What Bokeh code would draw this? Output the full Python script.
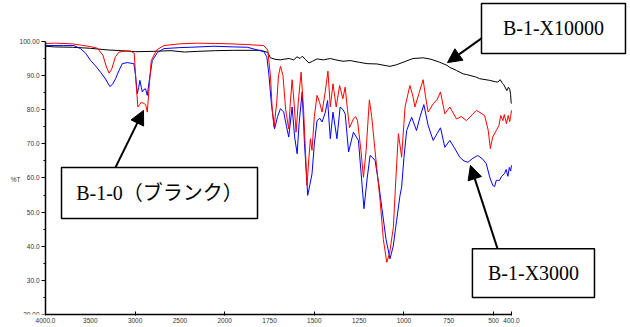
import numpy as np
from bokeh.plotting import figure
from bokeh.models import Range1d, FixedTicker, Label, Arrow, NormalHead
from bokeh.core.properties import value
from bokeh.embed import file_html
from bokeh.resources import INLINE

# ---- data (wavenumber cm-1, %T) ----
wn_black = [4000, 3900, 3700, 3500, 3300, 3150, 3000, 2800, 2600, 2450, 2300, 2100, 1950, 1800, 1760,
            1745, 1720, 1690, 1670, 1640, 1615, 1597, 1580, 1567, 1550, 1530, 1510, 1485, 1450, 1411,
            1380, 1340, 1300, 1250, 1206, 1150, 1100, 1078, 1040, 1000, 950, 893, 850, 800, 760, 744,
            707, 670, 650, 600, 578, 522, 490, 476, 463, 450, 444, 426, 417, 410, 405, 402, 400]
t_black = [98.6, 98.4, 98.3, 98.0, 97.5, 97.3, 97.0, 97.1, 97.3, 96.9, 97.1, 97.3, 97.4, 97.4, 96.8,
           95.2, 94.8, 94.6, 94.8, 95.0, 94.6, 95.5, 95.0, 95.7, 94.7, 93.7, 94.2, 94.9, 94.6, 95.0,
           94.6, 94.2, 94.4, 93.9, 93.5, 93.4, 92.9, 92.7, 93.2, 94.0, 95.0, 95.2, 94.8, 93.9, 93.0, 92.4,
           91.5, 90.5, 90.3, 89.6, 89.1, 88.6, 88.2, 88.1, 88.8, 87.7, 87.4, 85.6, 86.6, 86.0, 84.5, 82.0, 81.8]

wn_red = [4000, 3900, 3700, 3600, 3500, 3420, 3360, 3320, 3290, 3260, 3220, 3180, 3100, 3050, 3010,
          2990, 2969, 2950, 2930, 2900, 2883, 2864, 2845, 2820, 2760, 2680, 2500, 2306, 2100, 1967,
          1880, 1783, 1760, 1745, 1735, 1725, 1710, 1700, 1689, 1675, 1660, 1643, 1634, 1624, 1613,
          1602, 1590, 1574, 1560, 1541, 1530, 1522, 1513, 1500, 1485, 1470, 1457, 1440, 1424, 1411,
          1396, 1378, 1359, 1341, 1328, 1315, 1304, 1282, 1270, 1259, 1240, 1226, 1211, 1193, 1180,
          1167, 1150, 1133, 1115, 1096, 1080, 1059, 1045, 1031, 1013, 994, 967, 950, 939, 915, 893,
          880, 865, 837, 815, 796, 772, 744, 707, 680, 652, 620, 596, 570, 550, 530, 518, 505, 485,
          470, 460, 448, 440, 428, 418, 410, 405, 400]
t_red = [99.4, 99.5, 99.3, 98.9, 98.5, 98.0, 96.0, 92.5, 90.7, 92.0, 95.5, 96.9, 97.2, 97.2, 96.5,
         88.0, 80.8, 81.5, 82.2, 81.8, 81.5, 79.3, 86.0, 94.4, 97.5, 98.8, 99.3, 99.5, 99.4, 99.3,
         99.1, 98.8, 97.5, 90.0, 80.0, 74.9, 82.0, 90.0, 92.7, 90.0, 80.0, 74.4, 82.0, 88.8, 82.0,
         73.4, 82.0, 91.0, 80.0, 57.8, 66.0, 71.5, 68.1, 78.0, 84.2, 82.0, 79.3, 85.0, 91.3, 80.8,
         87.6, 80.8, 87.1, 83.2, 86.6, 80.0, 74.7, 77.3, 78.0, 76.8, 68.0, 60.2, 68.1, 82.9, 78.0,
         71.0, 62.0, 53.4, 42.0, 35.3, 38.0, 45.6, 60.0, 73.0, 66.1, 80.8, 87.1, 84.0, 80.8, 85.0, 88.8,
         84.0, 79.3, 81.7, 83.0, 85.2, 78.8, 80.8, 77.3, 78.0, 76.8, 78.5, 79.8, 79.0, 78.3, 74.0, 68.6, 72.0, 73.9,
         75.4, 78.3, 76.8, 78.6, 75.9, 78.3, 76.5, 78.0, 79.8]

wn_blue = [4000, 3800, 3684, 3609, 3550, 3497, 3440, 3386, 3330, 3282, 3250, 3218, 3180, 3143, 3088,
           3014, 2995, 2976, 2960, 2947, 2930, 2920, 2900, 2883, 2864, 2840, 2808, 2750, 2679, 2500,
           2380, 2120, 1950, 1874, 1782, 1765, 1754, 1740, 1722, 1705, 1689, 1671, 1655, 1643, 1624,
           1610, 1596, 1585, 1568, 1555, 1537, 1525, 1513, 1500, 1485, 1470, 1457, 1440, 1426, 1411,
           1396, 1374, 1356, 1340, 1328, 1318, 1309, 1282, 1254, 1240, 1223, 1205, 1189, 1175, 1161,
           1140, 1124, 1100, 1078, 1060, 1041, 1022, 1013, 1000, 985, 957, 930, 910, 889, 865, 837,
           815, 796, 772, 744, 715, 689, 665, 643, 615, 588, 560, 541, 520, 504, 494, 485, 477, 467,
           455, 439, 430, 420, 412, 405, 400]
t_blue = [98.8, 98.8, 98.8, 97.9, 96.5, 94.4, 92.8, 91.0, 89.0, 86.8, 87.5, 89.1, 91.5, 93.5, 93.8,
          93.5, 90.0, 84.7, 86.5, 88.6, 86.5, 85.2, 86.0, 86.1, 84.2, 89.0, 94.4, 96.8, 97.9, 98.2,
          98.3, 98.6, 98.4, 98.3, 97.0, 95.5, 90.5, 82.0, 74.4, 78.0, 80.3, 79.3, 75.0, 72.0, 80.8,
          72.0, 67.1, 76.0, 85.2, 70.0, 54.9, 58.0, 61.2, 70.0, 76.8, 77.5, 76.4, 79.0, 82.7, 71.5,
          79.3, 71.5, 80.8, 80.0, 78.8, 73.0, 67.6, 73.4, 71.0, 62.0, 51.0, 60.0, 66.6, 66.0, 65.1,
          58.0, 51.5, 42.0, 36.3, 40.0, 47.5, 54.9, 57.3, 66.0, 73.9, 77.8, 73.9, 78.0, 81.5, 75.4, 71.0,
          73.0, 74.7, 69.0, 71.0, 68.5, 66.1, 65.0, 64.6, 65.8, 66.6, 65.5, 64.2, 60.0, 57.8, 57.5, 59.3, 59.3, 59.3,
          60.5, 61.3, 62.5, 60.5, 63.1, 62.0, 63.7]

x_tick_wn = [4000, 3500, 3000, 2500, 2000, 1750, 1500, 1250, 1000, 750, 500, 400]
x_tick_labels = ["4000.0", "3500", "3000", "2500", "2000", "1750", "1500", "1250", "1000", "750", "500", "400.0"]
x_mark_wn = [4000, 3000, 2000, 1500, 1000, 500, 400]
y_ticks = [20, 30, 40, 50, 60, 70, 80, 90, 100]
y_tick_labels = ["20.00", "30.0", "40.0", "50.0", "60.0", "70.0", "80.0", "90.0", "100.00"]
y_minor = [25, 35, 45, 55, 65, 75, 85, 95]
y_title = "%T"


def to_u(w):
    # split axis: 4000-2000 compressed by factor 2, 2000-400 full scale
    w = np.asarray(w, dtype=float)
    return np.where(w >= 2000, (4000 - w) / 2.0, 1000 + (2000 - w))


p = figure(width=630, height=327, x_range=Range1d(-251.1, 3264), y_range=Range1d(20, 112.0),
           output_backend="svg", toolbar_location=None,
           min_border_left=0, min_border_right=0, min_border_top=0, min_border_bottom=13)
p.xgrid.visible = False
p.ygrid.visible = False
p.outline_line_color = None
p.background_fill_color = "white"
p.border_fill_color = "white"

tick_font = "Liberation Sans"
xa = p.xaxis[0]
xa.ticker = FixedTicker(ticks=[float(v) for v in to_u(x_tick_wn)], minor_ticks=[float(v) for v in to_u(x_mark_wn)])
xa.major_label_overrides = {float(u): s for u, s in zip(to_u(x_tick_wn), x_tick_labels)}
xa.bounds = (0, float(to_u(400)))
xa.major_tick_in = 0
xa.major_tick_out = 0
xa.minor_tick_in = 3
xa.minor_tick_out = 1
xa.major_label_standoff = 2
xa.major_label_text_font = tick_font
xa.major_label_text_font_size = "6.5px"
xa.major_label_text_color = "#333333"
xa.axis_line_width = 1.5
xa.axis_line_color = "black"

ya = p.yaxis[0]
ya.fixed_location = 0.0
ya.ticker = FixedTicker(ticks=y_ticks, minor_ticks=y_minor)
ya.major_label_overrides = {v: s for v, s in zip(y_ticks, y_tick_labels)}
ya.bounds = (20, 100)
ya.major_tick_in = 0
ya.major_tick_out = 4
ya.minor_tick_in = 0
ya.minor_tick_out = 2
ya.major_label_standoff = 2
ya.major_label_text_font = tick_font
ya.major_label_text_font_size = "6.5px"
ya.major_label_text_color = "#333333"
ya.axis_line_width = 1.5
ya.axis_line_color = "black"

# "%T" title beside the 60 tick, left of the tick labels
p.text(x=[-167.0], y=[59.6], text=[y_title], text_font=value(tick_font), text_font_size="6.5px",
       text_color="#333333", text_align="center", text_baseline="middle")

p.line(to_u(wn_black), t_black, line_color="black", line_width=1)
p.line(to_u(wn_blue), t_blue, line_color="#0000ff", line_width=1)
p.line(to_u(wn_red), t_red, line_color="#ff0000", line_width=1)

# annotation boxes
p.quad(left=[2432.6, 89.3, 2382.0], right=[3236.0, 1182.9, 3063.0],
       top=[111.1, 63.1, 39.3], bottom=[96.5, 48.1, 25.0],
       fill_color="white", line_color="black", line_width=1.5)

serif = "Liberation Serif, Noto Sans CJK JP"
for (x, y, t) in [(2834, 103.8, "B-1-X10000"), (636, 55.6, "B-1-0（ブランク）"), (2723, 32.1, "B-1-X3000")]:
    p.add_layout(Label(x=x, y=y, text=t, text_font=serif, text_font_size="20px",
                       text_color="black", text_align="center", text_baseline="middle"))

for (xs, ys, xe, ye) in [(2432.6, 100.9, 2243.0, 93.8), (390.6, 63.1, 546.8, 79.8), (2522.0, 39.3, 2371.0, 63.7)]:
    p.add_layout(Arrow(end=NormalHead(size=14, fill_color="black", line_color="black"),
                       x_start=xs, y_start=ys, x_end=xe, y_end=ye, line_width=2, line_color="black"))

open("out.html", "w").write(file_html(p, INLINE))
